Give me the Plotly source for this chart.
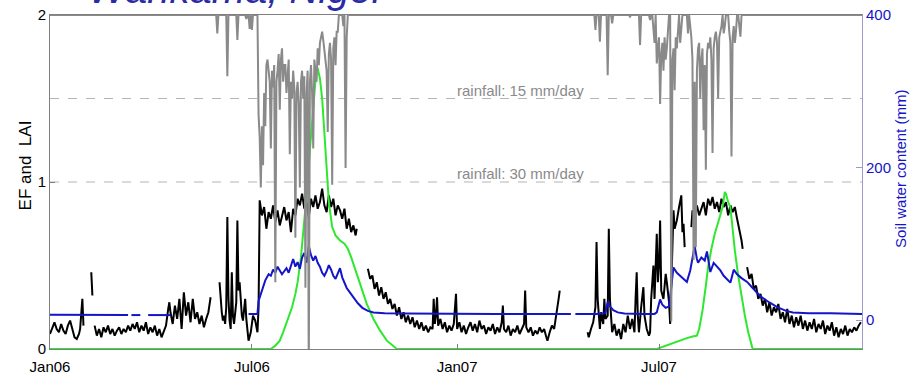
import pandas as pd
import plotly.graph_objects as go

START = pd.Timestamp("2006-01-01")

# ---------------- data (days since 2006-01-01) ----------------
# Evaporative fraction (EF), black line; None = gap
ef_day = [0, 2, 4, 6, 8, 10, 12, 14, 16, 18, 20, 22, 24, 26, 27, 28, 29, 30, 33,
          37, 38, 39,
          40, 42, 44, 46, 48, 50, 52, 54, 56, 58, 60, 62, 64, 66, 68, 70, 72, 74, 76, 78,
          80, 82, 84, 86, 88, 90, 92, 94, 96, 98, 100, 102, 104, 106, 107,
          108, 110, 112, 114, 116, 118, 120, 122, 124, 126, 128, 130, 132, 134, 136, 138,
          140, 142, 144, 148,
          152, 153, 154, 155, 156, 157, 158, 159, 160, 161, 162, 163, 164, 165, 166, 167,
          168, 169, 170, 171, 172, 173, 175, 176, 177, 178, 180, 182, 184, 186, 187,
          188, 190, 192, 194, 196, 198, 200, 202, 204, 206, 208, 210, 212, 214, 216, 218,
          220, 222, 224, 226, 228, 230, 232, 234, 236, 238, 240, 242, 244, 246, 248, 250,
          252, 254, 256, 258, 260, 262, 264, 266, 268, 270, 272, 274, 275, 280,
          285, 287, 289, 291, 293, 295, 297, 299, 301, 303, 305, 307, 309, 311, 313, 315,
          317, 319, 321, 323, 325, 327, 329, 331, 333, 335, 337, 339, 341,
          343, 344, 345, 346, 347, 348, 350, 352, 354, 356, 358, 360, 362, 364, 365, 367,
          369, 371, 373, 375, 377, 379, 381, 383, 385, 387, 389, 391, 393, 395, 397, 399,
          401, 403, 405, 406, 407, 409, 411, 413, 415, 417, 419, 421, 423, 425, 426, 427,
          429, 431, 433, 435, 437, 439, 441, 443, 445, 446, 448, 450, 452, 454, 456, 457,
          470,
          482, 483, 485, 487, 489, 490, 491, 492, 493, 494, 496, 497, 498, 500, 501, 502,
          503, 504, 506, 508, 510, 512, 514, 516, 518, 520, 522, 524, 525, 526, 527, 528,
          530, 532, 533, 535, 537, 538, 539, 541, 542, 543, 544, 545, 546, 547, 548, 550,
          552, 553, 555, 556, 557, 559, 560, 562, 564, 566, 567, 568, 569, 572,
          575, 576, 578, 580, 582, 584, 586, 588, 590, 592, 594, 596, 598, 600, 602, 604,
          606, 608, 610, 612, 614, 616, 618, 620, 621, 623,
          625, 627, 629, 631, 633, 635, 637, 639, 641, 643, 645, 647, 649, 651, 653, 655,
          657, 659, 661, 663, 665, 667, 669, 671, 673, 675, 677, 679, 681, 683, 685, 687,
          689, 691, 693, 695, 697, 699, 701, 703, 705, 707, 709, 711, 713, 715, 717, 719,
          721, 723, 725, 727]
ef_val = [0.09, 0.13, 0.16, 0.12, 0.10, 0.15, 0.11, 0.09, 0.14, 0.17, 0.12, 0.07, 0.06, 0.09, 0.12, 0.20, 0.30, 0.14, None,
          0.46, 0.32, None,
          0.14, 0.08, 0.12, 0.07, 0.13, 0.10, 0.14, 0.09, 0.12, 0.08, 0.11, 0.13, 0.09, 0.12, 0.10, 0.14, 0.11, 0.15, 0.12, 0.16,
          0.10, 0.14, 0.11, 0.16, 0.09, 0.13, 0.10, 0.14, 0.08, 0.12, 0.07, 0.11, 0.14, 0.24, 0.28,
          0.22, 0.15, 0.26, 0.18, 0.30, 0.12, 0.34, 0.20, 0.28, 0.16, 0.30, 0.18, 0.22, 0.15, 0.20, 0.13,
          0.18, 0.22, 0.31, None,
          0.40, 0.30, 0.22, 0.17, 0.20, 0.15, 0.25, 0.79, 0.30, 0.17, 0.12, 0.46, 0.20, 0.15, 0.20, 0.28,
          0.77, 0.35, 0.40, 0.25, 0.20, 0.17, 0.30, 0.18, 0.12, 0.05, 0.10, 0.20, 0.17, 0.10, 0.25,
          0.89, 0.80, 0.85, 0.72, 0.82, 0.78, 0.86, 0.76, 0.83, 0.74, 0.80, 0.85, 0.77, 0.82, 0.70, 0.84,
          0.80, 0.90, 0.86, 0.93, 0.84, 0.88, 0.79, 0.90, 0.85, 0.92, 0.84, 0.88, 0.96, 0.86, 0.82, 0.92,
          0.85, 0.90, 0.80, 0.86, 0.83, 0.78, 0.84, 0.72, 0.78, 0.70, 0.74, 0.68, 0.72, None,
          0.48, 0.42, 0.44, 0.36, 0.40, 0.32, 0.37, 0.30, 0.34, 0.27, 0.30, 0.24, 0.27, 0.20, 0.25, 0.18,
          0.22, 0.16, 0.20, 0.15, 0.19, 0.13, 0.17, 0.12, 0.16, 0.11, 0.14, 0.10, 0.13,
          0.12, 0.30, 0.15, 0.20, 0.31, 0.14, 0.18, 0.12, 0.16, 0.10, 0.14, 0.11, 0.15, 0.33, 0.12, 0.16,
          0.10, 0.14, 0.09, 0.13, 0.16, 0.11, 0.15, 0.10, 0.17, 0.12, 0.14, 0.09, 0.13, 0.11, 0.15, 0.09,
          0.13, 0.10, 0.16, 0.26, 0.12, 0.10, 0.14, 0.08, 0.12, 0.10, 0.14, 0.09, 0.12, 0.15, 0.35, 0.13,
          0.10, 0.13, 0.08, 0.11, 0.09, 0.13, 0.10, 0.12, 0.07, 0.05, 0.10, 0.14, 0.12, 0.20, 0.30, 0.35,
          None,
          0.10, 0.07, 0.12, 0.16, 0.25, 0.64, 0.30, 0.20, 0.12, 0.22, 0.15, 0.30, 0.18, 0.20, 0.72, 0.30,
          0.18, 0.10, 0.15, 0.08, 0.12, 0.06, 0.15, 0.10, 0.20, 0.12, 0.18, 0.10, 0.30, 0.46, 0.20, 0.10,
          0.25, 0.37, 0.20, 0.12, 0.08, 0.10, 0.30, 0.50, 0.30, 0.45, 0.69, 0.40, 0.50, 0.77, 0.35, 0.30,
          0.45, 0.40, 0.28, 0.15, 0.40, 0.83, 0.72, 0.77, 0.85, 0.92, 0.70, 0.75, 0.61, None,
          0.73, 0.83, 0.78, 0.86, 0.80, 0.84, 0.88, 0.80, 0.90, 0.86, 0.91, 0.84, 0.88, 0.82, 0.90, 0.85,
          0.88, 0.80, 0.86, 0.82, 0.85, 0.78, 0.72, 0.65, 0.60, None,
          0.49, 0.42, 0.45, 0.36, 0.38, 0.30, 0.33, 0.26, 0.30, 0.22, 0.28, 0.20, 0.25, 0.22, 0.27, 0.18,
          0.22, 0.16, 0.24, 0.15, 0.20, 0.13, 0.19, 0.14, 0.20, 0.12, 0.17, 0.11, 0.16, 0.12, 0.18, 0.10,
          0.15, 0.12, 0.17, 0.09, 0.14, 0.11, 0.16, 0.08, 0.13, 0.07, 0.12, 0.09, 0.14, 0.08, 0.12, 0.10,
          0.13, 0.11, 0.14, 0.16]

# Leaf area index (LAI), green line
lai_day = [0, 198, 202, 206, 209, 213, 217, 220, 222, 225, 227, 230, 233, 236, 238, 239, 240, 242,
           244, 246, 248, 250, 253, 256, 260, 264, 267, 270, 275, 280, 284, 290, 296, 302, 307, 311,
           544, 552, 559, 565, 571, 576, 580, 582, 585, 588, 590, 593, 596, 600, 603, 605, 606, 608,
           610, 612, 614, 617, 619, 621, 623, 626, 628, 630, 728]
lai_val = [0, 0, 0.02, 0.05, 0.10, 0.17, 0.25, 0.33, 0.40, 0.55, 0.69, 0.92, 1.19, 1.45, 1.59, 1.69, 1.68, 1.62,
           1.50, 1.30, 1.09, 0.88, 0.73, 0.68, 0.65, 0.63, 0.60, 0.55, 0.45, 0.35, 0.27, 0.18, 0.11, 0.05, 0.02, 0,
           0, 0.02, 0.035, 0.05, 0.065, 0.075, 0.08, 0.12, 0.23, 0.38, 0.49, 0.60, 0.69, 0.78, 0.85, 0.94, 0.93, 0.88,
           0.85, 0.72, 0.59, 0.44, 0.35, 0.29, 0.20, 0.10, 0.04, 0, 0]

# Soil water content (mm), blue line, right axis
swc_day = [0, 30, 60, 70, 71, 73, 81, 82, 88, 100, 108, 140,
           178, 186, 187, 189, 191, 193, 196, 198, 200, 202, 204, 206, 208, 210, 212, 214, 216, 218,
           220, 222, 224, 226, 228, 230, 232, 234, 236, 238, 240, 242, 244, 246, 248, 250, 252, 254,
           256, 258, 260, 262, 264, 266, 268, 270, 273, 276, 280, 285, 290, 300, 320, 360, 400, 440,
           467, 469, 471, 490, 498, 500, 502, 505, 509, 515, 530, 542, 544, 547, 549, 552, 555, 556,
           558, 559, 562, 565, 568, 571, 574, 576, 578, 580, 581, 584, 587, 589, 592, 595, 598, 601,
           604, 607, 610, 613, 616, 620, 625, 630, 637, 645, 652, 660, 666, 680, 700, 728]
swc_val = [7, 7, 6.5, 6.5, None, 6.5, 6.5, None, 6.5, 6.5, 6.5, None,
           8, 8, 25, 35, 45, 52, 60, 58, 66, 62, 70, 65, 60, 64, 68, 62, 72, 80,
           70, 76, 67, 82, 88, 75, 97, 85, 78, 84, 75, 70, 62, 58, 64, 72, 66, 58,
           54, 62, 68, 56, 48, 42, 38, 34, 28, 22, 16, 12, 10, 9, 8.5, 8, 8, 8,
           8, None, 8, 8, 9, 24, 18, 13, 10, 8.5, 8, 8, 10, 27, 20, 16, 18, 30,
           55, 69, 62, 58, 54, 50, 65, 80, 97, 80, 75, 82, 78, 90, 63, 75, 70, 65,
           58, 53, 49, 66, 60, 55, 50, 42, 31, 23, 17, 12, 10, 9, 9, 8]

# Daily rainfall (mm/day), grey, plotted downward from the top
rain_day = [150, 159, 168, 176, 179, 181,
            187, 188, 189, 190, 191, 192, 193, 194, 195, 196, 197, 198, 199, 200, 201, 202, 203, 204,
            205, 206, 207, 208, 209, 210, 211, 212, 213, 214, 215, 216, 217, 218, 219, 220, 221, 222,
            223, 224, 225, 226, 227, 228, 229, 230, 231, 232, 233, 234, 235, 236, 237, 238, 239, 240,
            241, 242, 243, 244, 245, 246, 247, 248, 249, 250, 251, 252, 253, 254, 255, 256, 257, 258,
            263, 265, 266,
            489, 493, 500, 504, 520, 529, 538, 541, 542, 544, 545, 546, 547, 548, 549, 550, 551, 552,
            553, 554, 557, 558, 559, 560, 561, 562, 563, 565, 566, 572, 574, 575, 576, 577, 578, 579,
            580, 581, 582, 583, 584, 585, 586, 587, 588, 589, 590, 591, 592, 593, 594, 595, 596, 597,
            598, 599, 600, 601, 602, 604, 605, 609, 610, 611, 612, 613, 614, 615, 618, 619]
rain_mm = [3.3, 11, 4.5, 0.7, 2.5, 2.7,
           18, 22, 31, 20, 27, 14, 20, 9, 8, 11, 12, 24, 10, 13, 9, 48, 12, 10,
           7, 17, 8, 6, 12, 9, 9, 14, 10, 8, 25, 12, 15, 10, 13, 40, 14, 12,
           16, 31, 12, 10, 15, 11, 49, 14, 10, 65, 12, 9, 14, 24, 8, 10, 12, 6,
           9, 5, 4, 3, 4.5, 6, 8, 10, 21, 7, 5, 8, 30.5, 6, 4, 9, 3, 3,
           2, 27.5, 4,
           2.7, 4.8, 10.8, 1.5, 0.3, 5.4, 0.9, 3, 5, 8.7, 6, 4, 16, 7, 5, 10, 4, 8,
           6, 3, 55, 8, 6, 13.5, 4, 6, 3, 5, 2, 3.3, 2, 4, 8, 44, 12, 41.7,
           10, 6, 5, 15, 8, 6, 20.7, 9, 27.8, 7, 5, 6, 4, 8, 24.8, 6, 4, 3,
           5, 15, 4, 3, 2, 3.3, 2, 3, 5, 25.4, 4, 2, 5, 3, 2, 3.9]

rain_ref_mm = [15, 30]
x_ticks = ["2006-01-01", "2006-07-01", "2007-01-01", "2007-07-01"]
x_tick_text = ["Jan06", "Jul06", "Jan07", "Jul07"]
n_days = 729

assert len(ef_day) == len(ef_val)
assert len(lai_day) == len(lai_val)
assert len(swc_day) == len(swc_val)
assert len(rain_day) == len(rain_mm)


def to_dates(days):
    return [START + pd.Timedelta(days=d) for d in days]


# daily rainfall series (zero on days without rain)
rain_daily = [0.0] * n_days
for d, r in zip(rain_day, rain_mm):
    rain_daily[d] = r
rain_dates = to_dates(range(n_days))

FONT = "Liberation Sans, Arial, sans-serif"

fig = go.Figure()
fig.add_trace(go.Scatter(x=rain_dates, y=rain_daily, yaxis="y3", mode="lines",
                         line=dict(color="#8a8a8a", width=2), hoverinfo="skip"))
fig.add_trace(go.Scatter(x=to_dates(ef_day), y=ef_val, mode="lines",
                         line=dict(color="#000000", width=2), connectgaps=False))
fig.add_trace(go.Scatter(x=to_dates(swc_day), y=swc_val, yaxis="y2", mode="lines",
                         line=dict(color="#1414c8", width=2), connectgaps=False))
fig.add_trace(go.Scatter(x=to_dates(lai_day), y=lai_val, mode="lines",
                         line=dict(color="#2ee82e", width=2)))

shapes = []
annotations = []
for r in rain_ref_mm:
    shapes.append(dict(type="line", xref="paper", x0=0, x1=1, yref="y3", y0=r, y1=r,
                       line=dict(color="#b4b4b4", width=1, dash="dash"), layer="below"))
    annotations.append(dict(x="2007-02-27", y=r, xref="x", yref="y3", xanchor="center", yanchor="bottom",
                            text=f"rainfall: {r} mm/day", showarrow=False,
                            font=dict(family=FONT, size=15, color="#8a8a8a"), yshift=-2))

annotations.append(dict(x=-0.029, y=0.551, xref="paper", yref="paper", xanchor="center", yanchor="middle",
                        text="EF and  LAI", textangle=-90, showarrow=False,
                        font=dict(family=FONT, size=17, color="#000")))
annotations.append(dict(x=1.048, y=0.539, xref="paper", yref="paper", xanchor="center", yanchor="middle",
                        text="Soil water content (mm)", textangle=-90, showarrow=False,
                        font=dict(family=FONT, size=15, color="#1414c8")))
annotations.append(dict(x=0.2315, y=1.078, xref="paper", yref="paper", xanchor="center", yanchor="middle",
                        text="<i>Wankama, Niger</i>", showarrow=False,
                        font=dict(family=FONT, size=40, color="#2b2ba6")))

fig.update_layout(
    width=919, height=376,
    margin=dict(l=50, r=57, t=15, b=27, pad=0, autoexpand=False),
    paper_bgcolor="white", plot_bgcolor="white",
    showlegend=False,
    font=dict(family=FONT, size=15, color="#000"),
    shapes=shapes, annotations=annotations,
    xaxis=dict(type="date", range=["2006-01-01", "2007-12-30"], tickvals=x_ticks, ticktext=x_tick_text,
               ticks="inside", ticklen=5, tickcolor="#808080", showgrid=False, zeroline=False,
               showline=True, linecolor="#808080", linewidth=1, mirror=True, ticklabelstandoff=4,
               tickfont=dict(size=15, color="#000")),
    yaxis=dict(range=[0, 2], tickvals=[0, 1, 2], ticks="inside", ticklen=5, tickcolor="#808080",
               showgrid=False, zeroline=False, showline=True, linecolor="#808080", linewidth=1,
               tickfont=dict(size=15, color="#000")),
    yaxis2=dict(range=[-38, 400], tickvals=[0, 200, 400], overlaying="y", side="right",
                ticks="inside", ticklen=6, tickcolor="#9a9acb", showgrid=False, zeroline=False,
                showline=True, linecolor="#9a9acb", linewidth=1,
                tickfont=dict(size=15, color="#1414c8")),
    yaxis3=dict(range=[60, 0], overlaying="y", visible=False, showgrid=False, zeroline=False),
)

fig.write_html("out.html")
